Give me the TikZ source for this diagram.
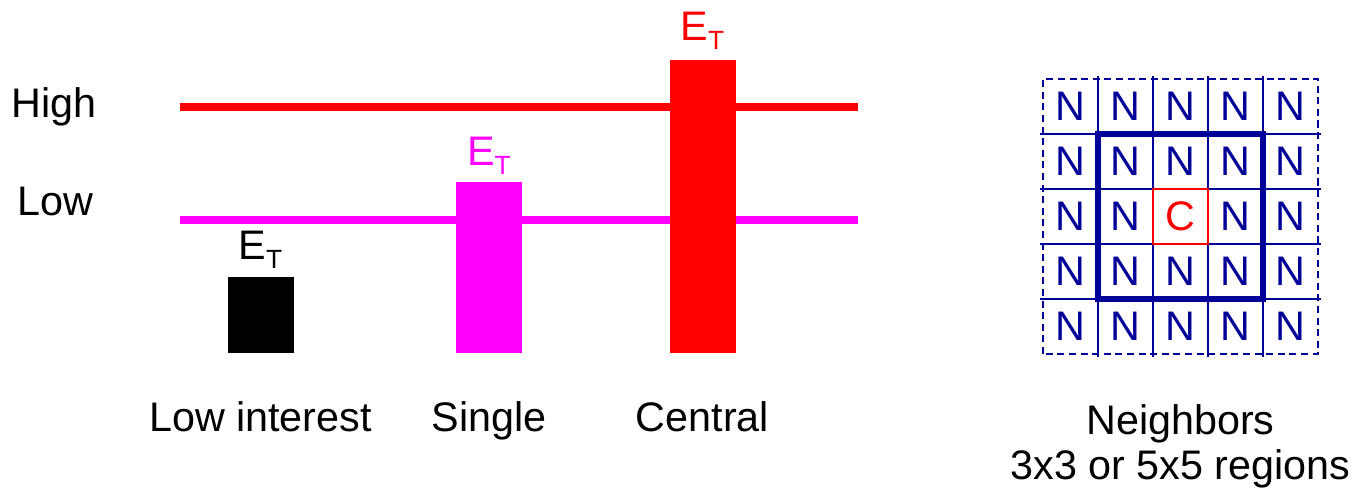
\documentclass[tikz,border=0pt]{standalone}
\usepackage{fontspec}
\setmainfont{Liberation Sans}
\usetikzlibrary{positioning}

\definecolor{navy}{RGB}{0,0,153}
\definecolor{pink}{RGB}{255,0,255}

\tikzset{
  lbl/.style={font=\fontsize{11.75}{12.8}\selectfont, inner sep=0pt},
  level/.style={line width=2.3pt},
  bar/.style={minimum width=0.66cm, inner sep=0pt, anchor=south},
  gridline/.style={navy, line width=0.5pt},
}
\newcommand{\ETlabel}{E\raisebox{-0.42ex}{\fontsize{7.5}{8}\selectfont T}}

\begin{document}
\begin{tikzpicture}

\useasboundingbox (0,0) rectangle (13.52,4.89);

% threshold levels
\node[lbl, anchor=base] (high) at (0.54,3.71) {High};
\node[lbl, anchor=base] (low) at (0.55,2.73) {Low};
\coordinate (hiL) at (1.80,3.82);
\coordinate (hiR) at (8.58,3.82);
\coordinate (loL) at (1.80,2.69);
\coordinate (loR) at (8.58,2.69);
\draw[level, red] (hiL) -- (hiR);
\draw[level, pink] (loL) -- (loR);

% energy bars
\node[bar, fill=black, minimum height=0.76cm] (lowbar) at (2.605,1.35) {};
\node[bar, fill=pink, minimum height=1.71cm] (single) at (4.89,1.35) {};
\node[bar, fill=red, minimum height=2.93cm] (central) at (7.025,1.35) {};

\node[lbl, above=0.07cm of lowbar] (etlow) {\ETlabel};
\node[lbl, pink, above=0.06cm of single] (etsingle) {\ETlabel};
\node[lbl, red, above=0.09cm of central] (etcentral) {\ETlabel};

% captions
\node[lbl, anchor=base] (lowint) at ([yshift=-0.78cm]lowbar.south) {Low interest};
\node[lbl, anchor=base] (singlecap) at ([yshift=-0.78cm]single.south) {Single};
\node[lbl, anchor=base] (centralcap) at ([yshift=-0.78cm]central.south) {Central};

% neighbour grid
\coordinate (gsw) at (10.43,1.35);
\foreach \k in {1,...,4} {
  \draw[gridline] ([shift={(-0.03,0.55*\k)}]gsw) -- ++(2.81,0);
  \draw[gridline] ([shift={(0.55*\k,-0.03)}]gsw) -- ++(0,2.81);
}
\draw[gridline, dash pattern=on 2pt off 1.3pt] (gsw) rectangle ++(2.75,2.75);
\draw[navy, line width=1.5pt] ([shift={(0.55,0.55)}]gsw) rectangle ++(1.65,1.65);
\draw[red, line width=0.5pt] ([shift={(1.10,1.10)}]gsw) rectangle ++(0.55,0.55);

\foreach \i in {0,...,4}
  \foreach \j in {0,...,4} {
    \ifnum\i\j=22
      \node[lbl, red] (c) at ([shift={(0.275+0.55*\i,0.275+0.55*\j)}]gsw) {C};
    \else
      \node[lbl, navy] (n\i\j) at ([shift={(0.275+0.55*\i,0.275+0.55*\j)}]gsw) {N};
    \fi
  }

\node[lbl, align=center, anchor=north] (nbrcap) at (11.805,0.85) {Neighbors\\3x3 or 5x5 regions};

\end{tikzpicture}
\end{document}
